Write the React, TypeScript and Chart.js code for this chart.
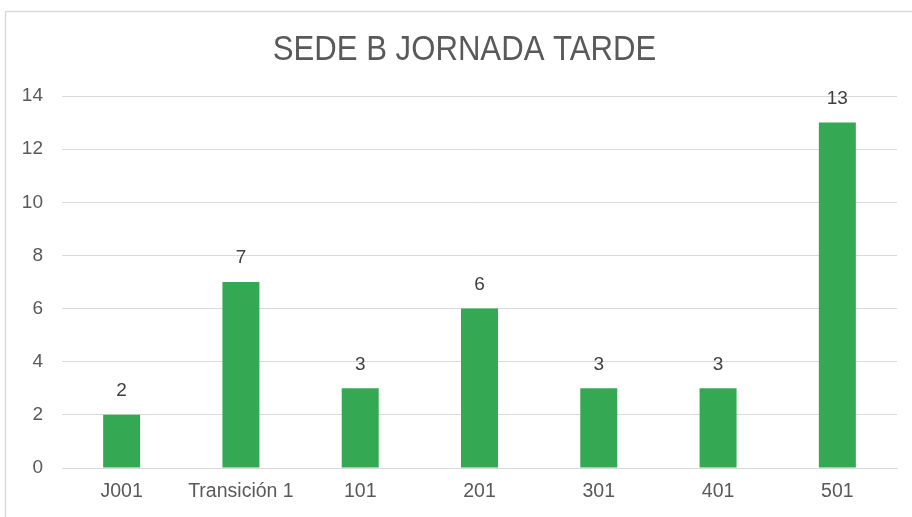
import React, { useEffect, useRef } from "react";
import { Chart, registerables } from "chart.js";

Chart.register(...registerables);

const TITLE = "SEDE B JORNADA TARDE";
const categories = ["J001", "Transición 1", "101", "201", "301", "401", "501"];
const values = [2, 7, 3, 6, 3, 3, 13];
const yTicks = [0, 2, 4, 6, 8, 10, 12, 14];

const FONT = "'Liberation Sans', Arial, sans-serif";

export default function App() {
  const ref = useRef<HTMLCanvasElement>(null);
  useEffect(() => {
    document.body.style.margin = "0";
    const canvas = ref.current!;
    const framePlugin = {
      id: "frame",
      beforeDraw(chart: any) {
        const ctx = chart.ctx;
        ctx.save();
        ctx.fillStyle = "#ffffff";
        ctx.fillRect(0, 0, chart.width, chart.height);
        ctx.strokeStyle = "#d9d9d9";
        ctx.lineWidth = 1.5;
        ctx.beginPath();
        ctx.moveTo(5.5, chart.height);
        ctx.lineTo(5.5, 11.5);
        ctx.lineTo(chart.width, 11.5);
        ctx.stroke();
        ctx.translate(464.5, 60);
        ctx.scale(0.89, 1);
        ctx.fillStyle = "#595959";
        ctx.font = `35px ${FONT}`;
        ctx.textAlign = "center";
        ctx.textBaseline = "alphabetic";
        ctx.fillText(TITLE, 0, 0);
        ctx.restore();
      },
    };
    const labelPlugin = {
      id: "valueLabels",
      afterDatasetsDraw(chart: any) {
        const ctx = chart.ctx;
        const meta = chart.getDatasetMeta(0);
        ctx.save();
        ctx.fillStyle = "#404040";
        ctx.font = `19px ${FONT}`;
        ctx.textAlign = "center";
        ctx.textBaseline = "middle";
        meta.data.forEach((bar: any, i: number) => {
          ctx.fillText(String(values[i]), bar.x, bar.y - 24);
        });
        ctx.restore();
      },
    };
    const chart = new Chart(canvas, {
      type: "bar",
      data: {
        labels: categories,
        datasets: [
          {
            data: values,
            backgroundColor: "#34A853",
            borderWidth: 0,
            barPercentage: 0.62,
            categoryPercentage: 0.5,
          },
        ],
      },
      options: {
        animation: false,
        responsive: false,
        layout: { padding: { top: 96, right: 15, left: 0, bottom: 0 } },
        plugins: {
          legend: { display: false },
          title: { display: false },
          tooltip: { enabled: false },
        },
        scales: {
          x: {
            grid: { display: false, drawTicks: false },
            border: { display: true, color: "#d9d9d9", width: 1 },
            ticks: {
              color: "#595959",
              font: { family: FONT, size: 19.5 },
              padding: 12,
              maxRotation: 0,
            },
            afterFit(scale: any) {
              scale.height = 49;
            },
          },
          y: {
            min: 0,
            max: 14,
            afterBuildTicks(scale: any) {
              scale.ticks = yTicks.map((v) => ({ value: v }));
            },
            grid: { color: "#d9d9d9", drawTicks: false, lineWidth: 1 },
            border: { display: false },
            ticks: {
              color: "#595959",
              font: { family: FONT, size: 19 },
              padding: 19,
            },
            afterFit(scale: any) {
              scale.width = 62;
            },
          },
        },
      },
      plugins: [framePlugin, labelPlugin],
    });
    return () => chart.destroy();
  }, []);
  return <canvas ref={ref} width={912} height={517} style={{ display: "block" }} />;
}
